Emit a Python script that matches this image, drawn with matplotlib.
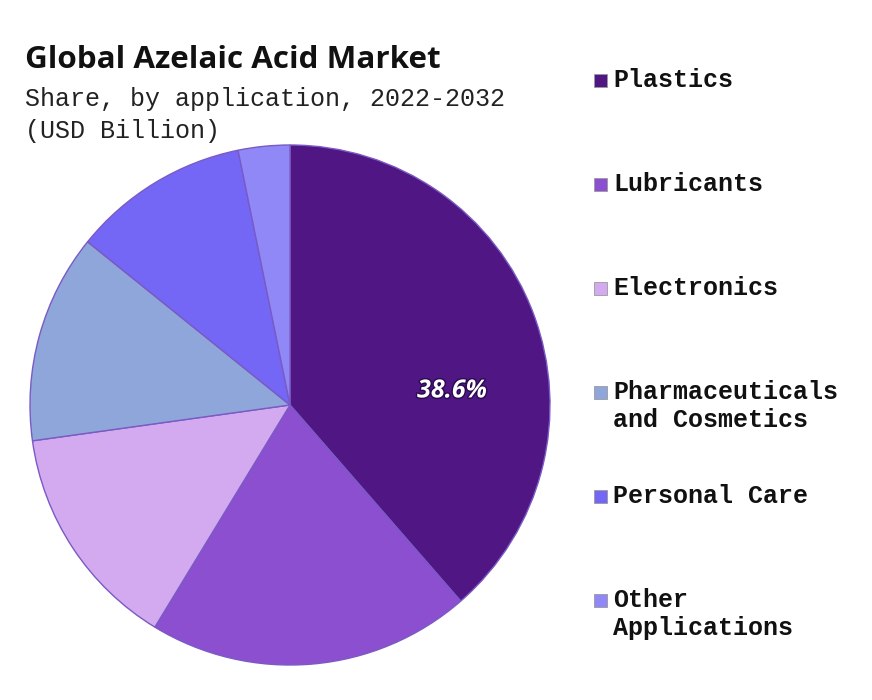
import numpy as np
import matplotlib.pyplot as plt
from matplotlib.patches import Rectangle
import matplotlib.patheffects as pe

# application shares (%), clockwise from 12 o'clock
categories = ["Plastics", "Lubricants", "Electronics",
              "Pharmaceuticals\nand Cosmetics", "Personal Care",
              "Other\nApplications"]
shares = [38.6, 20.1, 14.1, 13.0, 11.0, 3.2]
colors = ["#4f1684", "#8b4fd0", "#d3a9ef", "#8ea6da", "#7467f6", "#9088f6"]

W, H = 872, 700
fig = plt.figure(figsize=(W / 100, H / 100), dpi=100)
fig.patch.set_facecolor("white")

# pie, centre and radius in pixels
cx, cy, r = 290, 405, 260
ax = fig.add_axes([(cx - r) / W, (H - cy - r) / H, 2 * r / W, 2 * r / H])
wedges, _ = ax.pie(shares, colors=colors, startangle=90, counterclock=False,
                   wedgeprops=dict(edgecolor="#7a5ac4", linewidth=1.0))
ax.set_xlim(-1, 1)
ax.set_ylim(-1, 1)
ax.axis("off")

ax.text(0.623, 0.054, f"{shares[0]}%", color="white", fontsize=18,
        family="Open Sans", fontweight="bold", style="italic",
        ha="center", va="center",
        path_effects=[pe.withStroke(linewidth=2, foreground="#2a0a50")])

# title block
fig.text(25 / W, 1 - 68 / H, "Global Azelaic Acid Market", fontsize=22.6,
         family="Open Sans", fontweight="bold", color="#111111", va="baseline")
fig.text(25 / W, 1 - 106 / H, "Share, by application, 2022-2032",
         fontsize=18, family="Liberation Mono", color="#222222", va="baseline")
fig.text(25 / W, 1 - 138 / H, "(USD Billion)",
         fontsize=18, family="Liberation Mono", color="#222222", va="baseline")

# legend on the right
for i, (lab, col) in enumerate(zip(categories, colors)):
    base = 87 + 104 * i
    fig.patches.append(Rectangle((594 / W, 1 - base / H), 13 / W, 13 / H,
                                 transform=fig.transFigure, facecolor=col,
                                 edgecolor="#9a9a9a", linewidth=0.6))
    for j, line in enumerate(lab.split("\n")):
        fig.text(613 / W, 1 - (base + 28 * j) / H, line, fontsize=18,
                 family="Liberation Mono", fontweight="bold",
                 color="#111111", va="baseline")

fig.savefig("out.png", dpi=100, facecolor="white")
